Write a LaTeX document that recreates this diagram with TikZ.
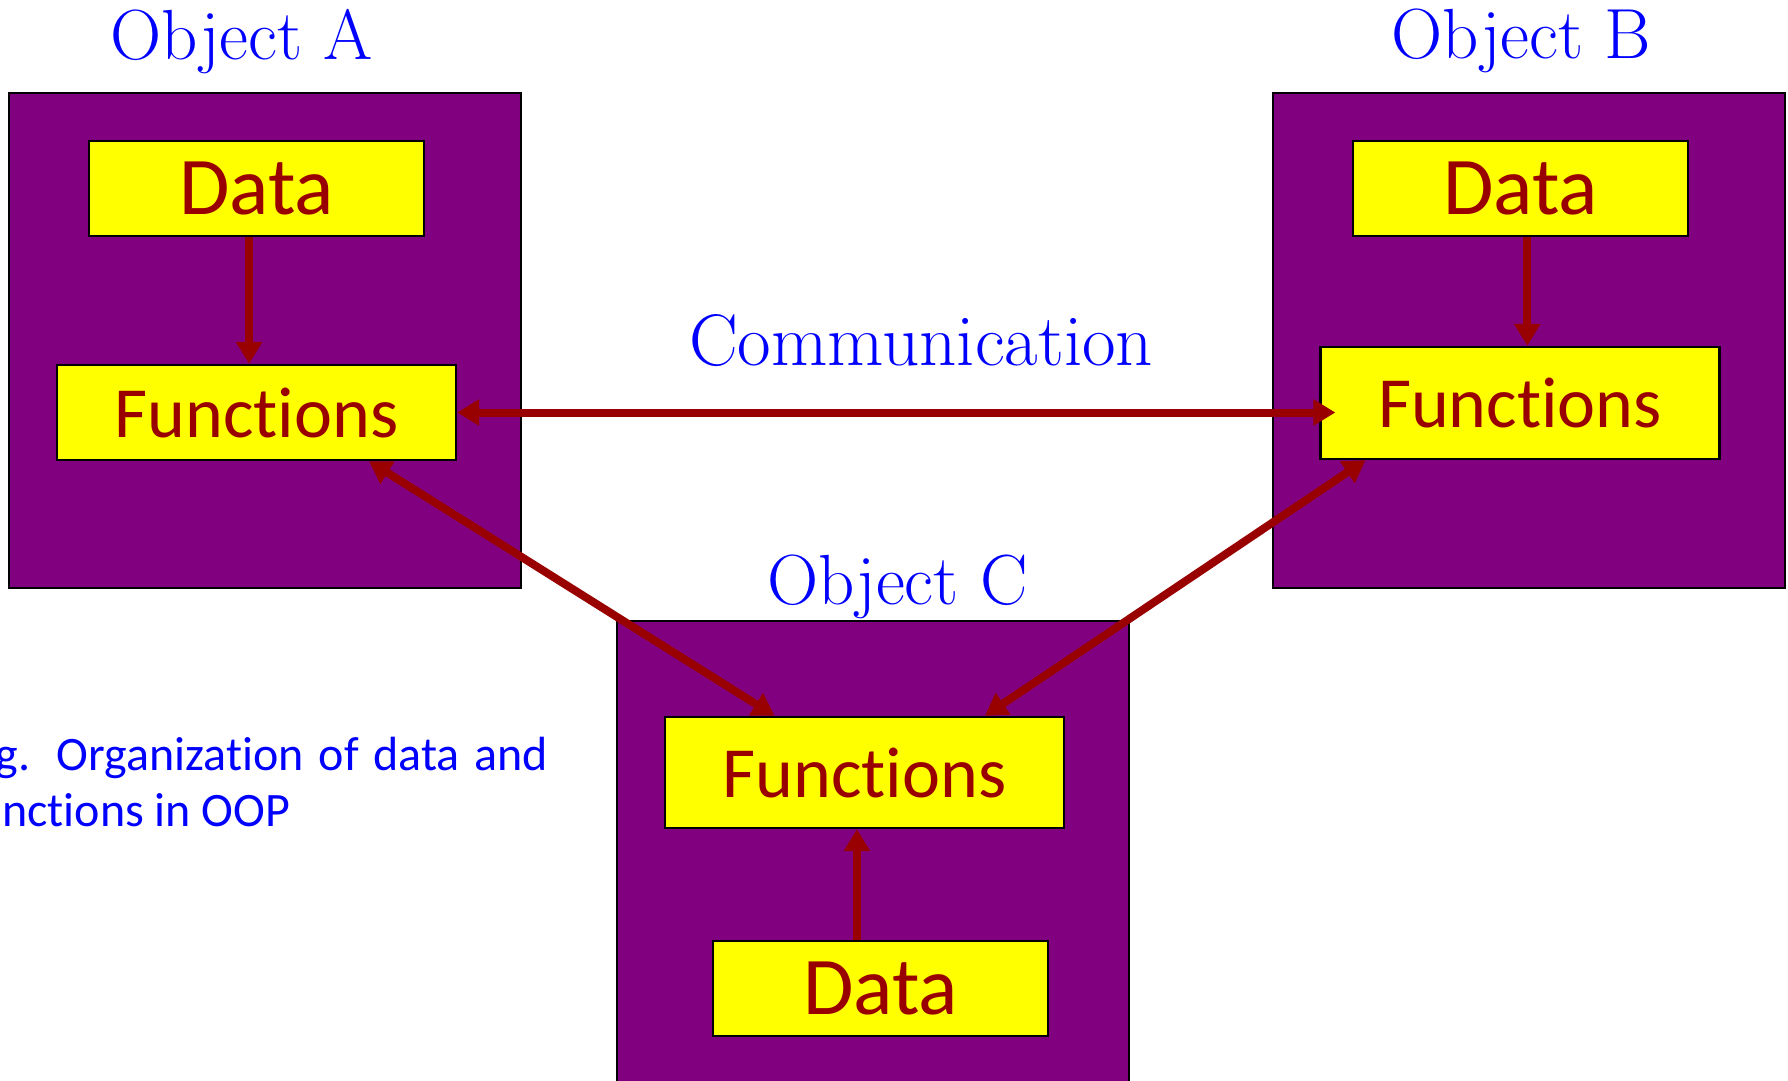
\documentclass[tikz,border=0pt]{standalone}
\usepackage{fontspec}
\newfontfamily\calfont[Ligatures={NoCommon,NoContextual}]{Carlito}
\usetikzlibrary{arrows.meta,calc}
\definecolor{objpurple}{RGB}{128,0,128}
\definecolor{boxyellow}{RGB}{255,255,0}
\definecolor{linkred}{RGB}{153,0,0}
\definecolor{titleblue}{RGB}{0,0,255}

\begin{document}
\begin{tikzpicture}[x=0.5pt,y=-0.5pt,
  objbox/.style={draw=black,line width=1pt,fill=objpurple,inner sep=0pt,minimum width=256pt},
  partbox/.style={draw=black,line width=1.1pt,fill=boxyellow,inner sep=0pt,text=linkred},
  databox/.style={partbox,minimum width=167.5pt,minimum height=47.5pt,
    font=\calfont\fontsize{41}{41}\selectfont},
  funcbox/.style={partbox,minimum width=199.5pt,
    font=\calfont\fontsize{36}{36}\selectfont},
  objtitle/.style={text=titleblue,font=\fontsize{35.5}{36}\selectfont,anchor=base,inner sep=0pt},
  link/.style={draw=linkred,line width=4pt,>={Triangle[length=11pt,width=12.5pt]}},
]
\useasboundingbox (0,0) rectangle (1788,1081);
\clip (0,0) rectangle (1788,1081);

% the three objects
\node[objbox,minimum height=247.5pt] (objA) at (265,340.5) {};
\node[objbox,minimum height=247.5pt] (objB) at (1529,340.5) {};
\node[objbox,minimum height=240pt] (objC) at (873,861) {};

% data and function parts
\node[databox] (dA) at (256.5,188.5) {Data};
\node[funcbox,minimum height=47.5pt] (fA) at (256.5,412.5) {Functions};
\node[databox] (dB) at (1520.5,188.5) {Data};
\node[funcbox,minimum height=56pt] (fB) at (1520,403) {Functions};
\node[funcbox,minimum height=55.5pt] (fC) at (864.5,772.5) {Functions};
\node[databox] (dC) at (880.5,988.5) {Data};

% titles
\node[objtitle] (tA) at (242,60) {Object A};
\node[objtitle] (tB) at (1521.5,59) {Object B};
\node[objtitle] (tC) at (897.5,604) {Object C};
\node[objtitle,font=\fontsize{36.5}{37}\selectfont] (tComm) at (921,365) {Communication};

% caption
\node[text=titleblue,font=\calfont\fontsize{24}{28}\selectfont,text width=293pt,
  align=justify,anchor=base west,inner sep=0pt] (cap) at (-38,770)
  {Fig. Organization of data and functions in OOP};

% data -> functions inside each object
\coordinate (a1) at ($(dA.south west)!0.478!(dA.south east)$);
\coordinate (b1) at ($(dB.south west)!0.52!(dB.south east)$);
\coordinate (c1) at ($(dC.north west)!0.43!(dC.north east)$);
\draw[link,->] (a1) -- (a1 |- fA.north);
\draw[link,->] (b1) -- (b1 |- fB.north);
\draw[link,->] (c1) -- (c1 |- fC.south);

% communication between objects
\draw[link,<->] (fA.east) -- ($(fA.east -| fB.west)+(16,0)$);
\draw[link,<->] ($(fA.south west)!0.78!(fA.south east)$) -- ($(fC.north west)!0.276!(fC.north east)$);
\draw[link,<->] ($(fB.south west)!0.115!(fB.south east)$) -- ($(fC.north west)!0.80!(fC.north east)$);
\end{tikzpicture}
\end{document}
